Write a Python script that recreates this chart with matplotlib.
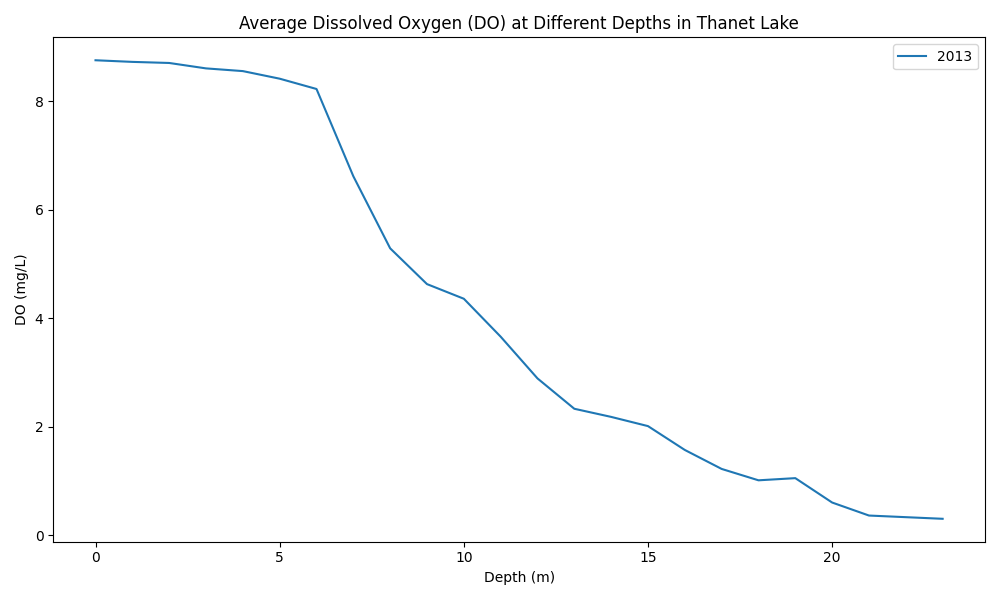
import matplotlib
matplotlib.use("Agg")
import matplotlib.pyplot as plt

# Perfil medio de oxígeno disuelto en Thanet Lake (2013)
depth_m = list(range(24))
do_2013 = [8.76, 8.73, 8.71, 8.61, 8.56, 8.42, 8.23, 6.62, 5.29, 4.63,
           4.36, 3.66, 2.89, 2.33, 2.18, 2.01, 1.57, 1.22, 1.01, 1.05,
           0.60, 0.36, 0.33, 0.30]


def main():
    fig, ax = plt.subplots(figsize=(10, 6), dpi=100)
    ax.plot(depth_m, do_2013, label="2013")
    ax.set_title("Average Dissolved Oxygen (DO) at Different Depths in Thanet Lake")
    ax.set_xlabel("Depth (m)")
    ax.set_ylabel("DO (mg/L)")
    ax.legend(loc="upper right")
    fig.tight_layout()
    fig.savefig("out.png")


if __name__ == "__main__":
    main()
